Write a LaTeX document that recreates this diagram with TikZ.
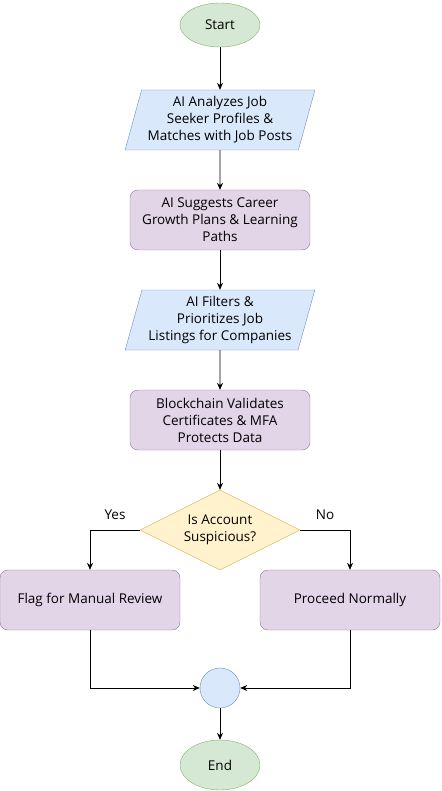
\documentclass[tikz,border=0pt]{standalone}
\usepackage{fontspec}
\setmainfont{Open Sans}
\usetikzlibrary{shapes.geometric,arrows.meta}
\definecolor{termfill}{HTML}{D5E8D4}
\definecolor{termline}{HTML}{82B366}
\definecolor{iofill}{HTML}{DAE8FC}
\definecolor{ioline}{HTML}{6C8EBF}
\definecolor{procfill}{HTML}{E1D5E7}
\definecolor{procline}{HTML}{9673A6}
\definecolor{decfill}{HTML}{FFF2CC}
\definecolor{decline}{HTML}{D6B656}
\begin{document}
\begin{tikzpicture}[x=1pt,y=-1pt,
  font=\fontsize{13.5}{17}\selectfont,
  terminal/.style={ellipse,draw=termline,fill=termfill,minimum width=80pt,minimum height=44pt,inner sep=0pt},
  iobox/.style={trapezium,trapezium left angle=72,trapezium right angle=108,trapezium stretches=true,
    draw=ioline,fill=iofill,minimum width=190pt,minimum height=60pt,inner sep=0pt,align=center},
  procbox/.style={rectangle,rounded corners=8pt,draw=procline,fill=procfill,minimum width=180pt,minimum height=60pt,inner sep=0pt,align=center},
  decbox/.style={diamond,shape aspect=2,draw=decline,fill=decfill,minimum width=160pt,minimum height=80pt,inner sep=0pt,align=center},
  joinpt/.style={circle,draw=ioline,fill=iofill,minimum size=40pt,inner sep=0pt},
  flow/.style={-{Stealth[length=7pt,width=6pt]},line width=0.8pt}]
\useasboundingbox (0,0) rectangle (441,791);
\node[terminal] (start) at (220,25) {Start};
\node[iobox] (match) at (220,120) {AI Analyzes Job\\Seeker Profiles \&\\Matches with Job Posts};
\node[procbox] (career) at (220,220) {AI Suggests Career\\Growth Plans \& Learning\\Paths};
\node[iobox] (filter) at (220,320) {AI Filters \&\\Prioritizes Job\\Listings for Companies};
\node[procbox] (chain) at (220,420) {Blockchain Validates\\Certificates \& MFA\\Protects Data};
\node[decbox] (susp) at (220,530) {Is Account\\Suspicious?};
\node[procbox] (flag) at (90,600) {Flag for Manual Review};
\node[procbox] (normal) at (350,600) {Proceed Normally};
\node[joinpt] (join) at (220,688) {};
\node[terminal,minimum height=50pt] (end) at (220,765) {End};
\coordinate (yescorner) at (90,530);
\coordinate (nocorner) at (350,530);
\coordinate (flagcorner) at (90,688);
\coordinate (normcorner) at (350,688);
\draw[flow] (start) -- (match);
\draw[flow] (match) -- (career);
\draw[flow] (career) -- (filter);
\draw[flow] (filter) -- (chain);
\draw[flow] (chain) -- (susp);
\draw[flow] (susp.west) -- (yescorner) -- (flag.north);
\draw[flow] (susp.east) -- (nocorner) -- (normal.north);
\draw[flow] (flag.south) -- (flagcorner) -- (join.west);
\draw[flow] (normal.south) -- (normcorner) -- (join.east);
\draw[flow] (join) -- (end);
\node (yes) at (115,515) {Yes};
\node (no) at (325,515) {No};
\end{tikzpicture}
\end{document}
